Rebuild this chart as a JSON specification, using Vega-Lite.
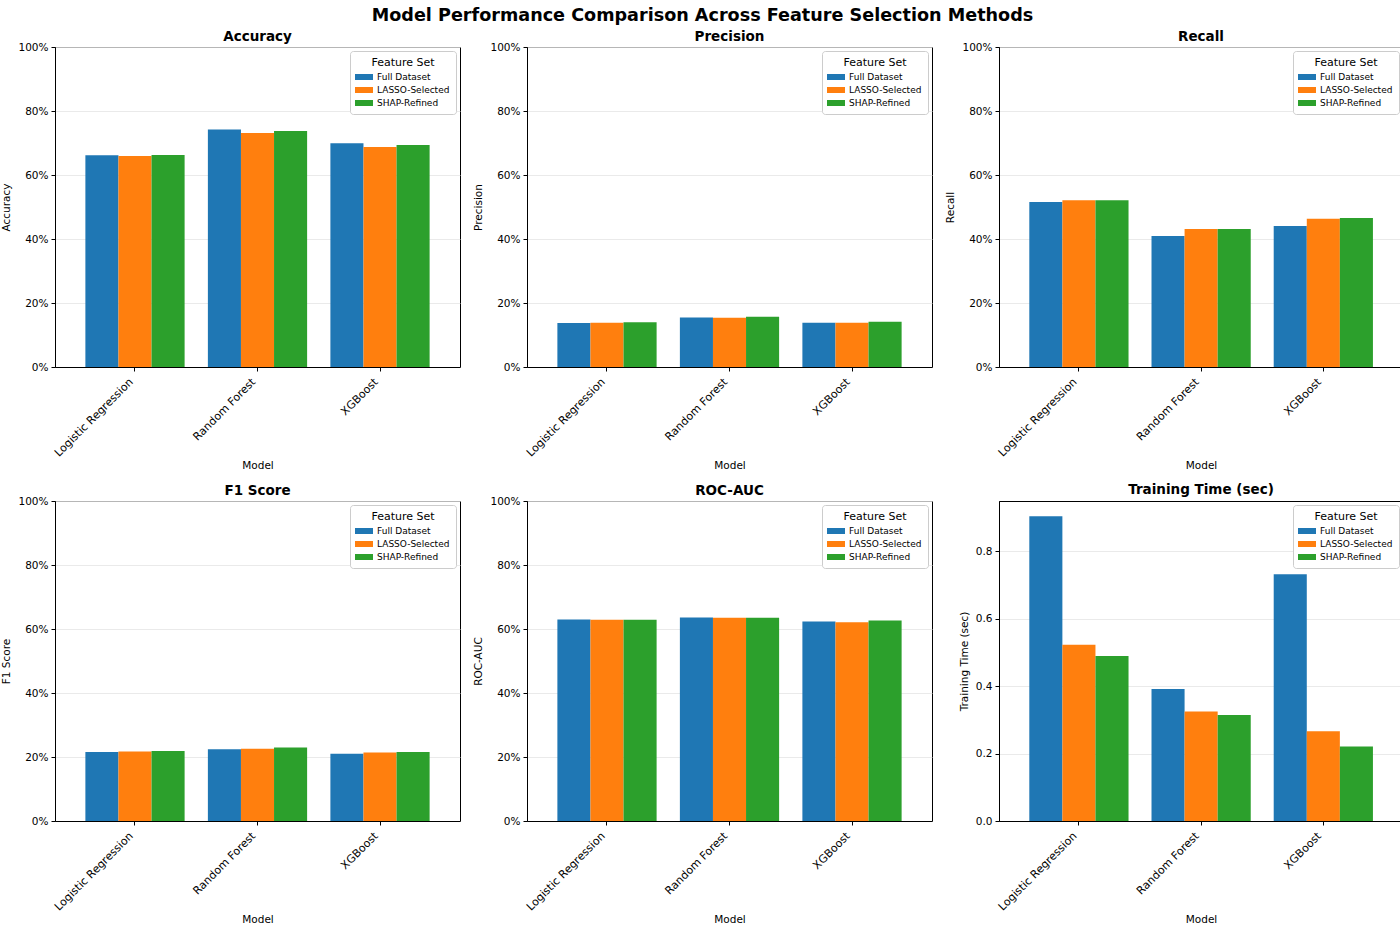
{
  "$schema": "https://vega.github.io/schema/vega-lite/v6.json",
  "padding": {"left": 1, "top": 7, "right": 0, "bottom": 0},
  "background": "white",
  "title": {"text": "Model Performance Comparison Across Feature Selection Methods", "fontSize": 17.6, "fontWeight": "bold", "anchor": "middle", "frame": "bounds", "offset": 4, "color": "black"},
  "config": {
    "font": "DejaVu Sans",
    "view": {"stroke": "black", "strokeWidth": 1},
    "title": {"fontSize": 13.5, "fontWeight": "bold", "offset": 5, "frame": "group", "color": "black"},
    "axis": {"labelFont": "DejaVu Sans", "labelFontSize": 10.5, "labelColor": "black", "titleFont": "DejaVu Sans", "titleFontSize": 10.5, "titleFontWeight": "normal", "titleColor": "black", "domainColor": "black", "tickColor": "black", "tickSize": 4, "labelPadding": 3, "gridColor": "#e4e4e4", "gridWidth": 0.8},
    "axisX": {"grid": false, "labelFontSize": 11, "labelAngle": -45, "labelAlign": "right", "labelBaseline": "middle", "labelOffset": -3.5, "labelPadding": 9, "titlePadding": 2},
    "axisY": {"titlePadding": 6},
    "legend": {"orient": "top-right", "offset": 4, "strokeColor": "#cccccc", "fillColor": "white", "padding": 6, "cornerRadius": 3, "titleFontSize": 11, "titleFontWeight": "normal", "titleColor": "black", "titleAnchor": "middle", "labelFontSize": 9, "labelColor": "black", "labelOffset": 7, "symbolOffset": 2, "symbolType": "M-1.5,-0.5H1.5V0.5H-1.5Z", "symbolSize": 144, "symbolStrokeWidth": 0, "symbolOpacity": 1, "rowPadding": 2, "titlePadding": 3}
  },
  "datasets": {
    "d": [
      {"metric": "Accuracy", "model": "Logistic Regression", "feature": "Full Dataset", "value": 0.6615},
      {"metric": "Accuracy", "model": "Logistic Regression", "feature": "LASSO-Selected", "value": 0.659},
      {"metric": "Accuracy", "model": "Logistic Regression", "feature": "SHAP-Refined", "value": 0.6625},
      {"metric": "Accuracy", "model": "Random Forest", "feature": "Full Dataset", "value": 0.742},
      {"metric": "Accuracy", "model": "Random Forest", "feature": "LASSO-Selected", "value": 0.731},
      {"metric": "Accuracy", "model": "Random Forest", "feature": "SHAP-Refined", "value": 0.7375},
      {"metric": "Accuracy", "model": "XGBoost", "feature": "Full Dataset", "value": 0.699},
      {"metric": "Accuracy", "model": "XGBoost", "feature": "LASSO-Selected", "value": 0.6875},
      {"metric": "Accuracy", "model": "XGBoost", "feature": "SHAP-Refined", "value": 0.694},
      {"metric": "Precision", "model": "Logistic Regression", "feature": "Full Dataset", "value": 0.1375},
      {"metric": "Precision", "model": "Logistic Regression", "feature": "LASSO-Selected", "value": 0.138},
      {"metric": "Precision", "model": "Logistic Regression", "feature": "SHAP-Refined", "value": 0.1395},
      {"metric": "Precision", "model": "Random Forest", "feature": "Full Dataset", "value": 0.155},
      {"metric": "Precision", "model": "Random Forest", "feature": "LASSO-Selected", "value": 0.154},
      {"metric": "Precision", "model": "Random Forest", "feature": "SHAP-Refined", "value": 0.157},
      {"metric": "Precision", "model": "XGBoost", "feature": "Full Dataset", "value": 0.138},
      {"metric": "Precision", "model": "XGBoost", "feature": "LASSO-Selected", "value": 0.138},
      {"metric": "Precision", "model": "XGBoost", "feature": "SHAP-Refined", "value": 0.1415},
      {"metric": "Recall", "model": "Logistic Regression", "feature": "Full Dataset", "value": 0.5156},
      {"metric": "Recall", "model": "Logistic Regression", "feature": "LASSO-Selected", "value": 0.521},
      {"metric": "Recall", "model": "Logistic Regression", "feature": "SHAP-Refined", "value": 0.521},
      {"metric": "Recall", "model": "Random Forest", "feature": "Full Dataset", "value": 0.409},
      {"metric": "Recall", "model": "Random Forest", "feature": "LASSO-Selected", "value": 0.431},
      {"metric": "Recall", "model": "Random Forest", "feature": "SHAP-Refined", "value": 0.431},
      {"metric": "Recall", "model": "XGBoost", "feature": "Full Dataset", "value": 0.4406},
      {"metric": "Recall", "model": "XGBoost", "feature": "LASSO-Selected", "value": 0.4635},
      {"metric": "Recall", "model": "XGBoost", "feature": "SHAP-Refined", "value": 0.4656},
      {"metric": "F1 Score", "model": "Logistic Regression", "feature": "Full Dataset", "value": 0.216},
      {"metric": "F1 Score", "model": "Logistic Regression", "feature": "LASSO-Selected", "value": 0.217},
      {"metric": "F1 Score", "model": "Logistic Regression", "feature": "SHAP-Refined", "value": 0.219},
      {"metric": "F1 Score", "model": "Random Forest", "feature": "Full Dataset", "value": 0.224},
      {"metric": "F1 Score", "model": "Random Forest", "feature": "LASSO-Selected", "value": 0.2255},
      {"metric": "F1 Score", "model": "Random Forest", "feature": "SHAP-Refined", "value": 0.2297},
      {"metric": "F1 Score", "model": "XGBoost", "feature": "Full Dataset", "value": 0.21},
      {"metric": "F1 Score", "model": "XGBoost", "feature": "LASSO-Selected", "value": 0.214},
      {"metric": "F1 Score", "model": "XGBoost", "feature": "SHAP-Refined", "value": 0.216},
      {"metric": "ROC-AUC", "model": "Logistic Regression", "feature": "Full Dataset", "value": 0.6297},
      {"metric": "ROC-AUC", "model": "Logistic Regression", "feature": "LASSO-Selected", "value": 0.6287},
      {"metric": "ROC-AUC", "model": "Logistic Regression", "feature": "SHAP-Refined", "value": 0.6287},
      {"metric": "ROC-AUC", "model": "Random Forest", "feature": "Full Dataset", "value": 0.636},
      {"metric": "ROC-AUC", "model": "Random Forest", "feature": "LASSO-Selected", "value": 0.635},
      {"metric": "ROC-AUC", "model": "Random Forest", "feature": "SHAP-Refined", "value": 0.635},
      {"metric": "ROC-AUC", "model": "XGBoost", "feature": "Full Dataset", "value": 0.6234},
      {"metric": "ROC-AUC", "model": "XGBoost", "feature": "LASSO-Selected", "value": 0.621},
      {"metric": "ROC-AUC", "model": "XGBoost", "feature": "SHAP-Refined", "value": 0.6266},
      {"metric": "Training Time (sec)", "model": "Logistic Regression", "feature": "Full Dataset", "value": 0.9036},
      {"metric": "Training Time (sec)", "model": "Logistic Regression", "feature": "LASSO-Selected", "value": 0.5228},
      {"metric": "Training Time (sec)", "model": "Logistic Regression", "feature": "SHAP-Refined", "value": 0.489},
      {"metric": "Training Time (sec)", "model": "Random Forest", "feature": "Full Dataset", "value": 0.3917},
      {"metric": "Training Time (sec)", "model": "Random Forest", "feature": "LASSO-Selected", "value": 0.3245},
      {"metric": "Training Time (sec)", "model": "Random Forest", "feature": "SHAP-Refined", "value": 0.3147},
      {"metric": "Training Time (sec)", "model": "XGBoost", "feature": "Full Dataset", "value": 0.732},
      {"metric": "Training Time (sec)", "model": "XGBoost", "feature": "LASSO-Selected", "value": 0.266},
      {"metric": "Training Time (sec)", "model": "XGBoost", "feature": "SHAP-Refined", "value": 0.221}
    ]
  },
  "columns": 3,
  "spacing": {"row": 10, "column": 12},
  "resolve": {"scale": {"color": "independent", "y": "independent"}, "legend": {"color": "independent"}},
  "concat": [
    {
      "width": 405, "height": 320, "title": {"text": "Accuracy", "offset": -1},
      "data": {"name": "d"},
      "transform": [{"filter": "datum.metric === 'Accuracy'"}],
      "mark": {"type": "bar"},
      "encoding": {
        "x": {"field": "model", "type": "nominal", "title": "Model", "scale": {"paddingInner": 0.19, "paddingOuter": 0.248}},
        "xOffset": {"field": "feature", "type": "nominal", "scale": {"paddingInner": 0, "paddingOuter": 0}},
        "y": {"field": "value", "type": "quantitative", "title": "Accuracy", "scale": {"domain": [0, 1]}, "axis": {"format": ".0%", "values": [0, 0.2, 0.4, 0.6, 0.8, 1]}},
        "color": {"field": "feature", "type": "nominal", "title": "Feature Set", "scale": {"domain": ["Full Dataset", "LASSO-Selected", "SHAP-Refined"], "range": ["#1f77b4", "#ff7f0e", "#2ca02c"]}}
      }
    },
    {
      "width": 405, "height": 320, "title": {"text": "Precision", "offset": -1},
      "data": {"name": "d"},
      "transform": [{"filter": "datum.metric === 'Precision'"}],
      "mark": {"type": "bar"},
      "encoding": {
        "x": {"field": "model", "type": "nominal", "title": "Model", "scale": {"paddingInner": 0.19, "paddingOuter": 0.248}},
        "xOffset": {"field": "feature", "type": "nominal", "scale": {"paddingInner": 0, "paddingOuter": 0}},
        "y": {"field": "value", "type": "quantitative", "title": "Precision", "scale": {"domain": [0, 1]}, "axis": {"format": ".0%", "values": [0, 0.2, 0.4, 0.6, 0.8, 1]}},
        "color": {"field": "feature", "type": "nominal", "title": "Feature Set", "scale": {"domain": ["Full Dataset", "LASSO-Selected", "SHAP-Refined"], "range": ["#1f77b4", "#ff7f0e", "#2ca02c"]}}
      }
    },
    {
      "width": 404, "height": 320, "title": {"text": "Recall", "offset": -1},
      "data": {"name": "d"},
      "transform": [{"filter": "datum.metric === 'Recall'"}],
      "mark": {"type": "bar"},
      "encoding": {
        "x": {"field": "model", "type": "nominal", "title": "Model", "scale": {"paddingInner": 0.19, "paddingOuter": 0.248}},
        "xOffset": {"field": "feature", "type": "nominal", "scale": {"paddingInner": 0, "paddingOuter": 0}},
        "y": {"field": "value", "type": "quantitative", "title": "Recall", "scale": {"domain": [0, 1]}, "axis": {"format": ".0%", "values": [0, 0.2, 0.4, 0.6, 0.8, 1]}},
        "color": {"field": "feature", "type": "nominal", "title": "Feature Set", "scale": {"domain": ["Full Dataset", "LASSO-Selected", "SHAP-Refined"], "range": ["#1f77b4", "#ff7f0e", "#2ca02c"]}}
      }
    },
    {
      "width": 405, "height": 320, "title": {"text": "F1 Score", "offset": -1},
      "data": {"name": "d"},
      "transform": [{"filter": "datum.metric === 'F1 Score'"}],
      "mark": {"type": "bar"},
      "encoding": {
        "x": {"field": "model", "type": "nominal", "title": "Model", "scale": {"paddingInner": 0.19, "paddingOuter": 0.248}},
        "xOffset": {"field": "feature", "type": "nominal", "scale": {"paddingInner": 0, "paddingOuter": 0}},
        "y": {"field": "value", "type": "quantitative", "title": "F1 Score", "scale": {"domain": [0, 1]}, "axis": {"format": ".0%", "values": [0, 0.2, 0.4, 0.6, 0.8, 1]}},
        "color": {"field": "feature", "type": "nominal", "title": "Feature Set", "scale": {"domain": ["Full Dataset", "LASSO-Selected", "SHAP-Refined"], "range": ["#1f77b4", "#ff7f0e", "#2ca02c"]}}
      }
    },
    {
      "width": 405, "height": 320, "title": {"text": "ROC-AUC", "offset": -1},
      "data": {"name": "d"},
      "transform": [{"filter": "datum.metric === 'ROC-AUC'"}],
      "mark": {"type": "bar"},
      "encoding": {
        "x": {"field": "model", "type": "nominal", "title": "Model", "scale": {"paddingInner": 0.19, "paddingOuter": 0.248}},
        "xOffset": {"field": "feature", "type": "nominal", "scale": {"paddingInner": 0, "paddingOuter": 0}},
        "y": {"field": "value", "type": "quantitative", "title": "ROC-AUC", "scale": {"domain": [0, 1]}, "axis": {"format": ".0%", "values": [0, 0.2, 0.4, 0.6, 0.8, 1]}},
        "color": {"field": "feature", "type": "nominal", "title": "Feature Set", "scale": {"domain": ["Full Dataset", "LASSO-Selected", "SHAP-Refined"], "range": ["#1f77b4", "#ff7f0e", "#2ca02c"]}}
      }
    },
    {
      "width": 404, "height": 320, "title": {"text": "Training Time (sec)", "offset": 5},
      "data": {"name": "d"},
      "transform": [{"filter": "datum.metric === 'Training Time (sec)'"}],
      "mark": {"type": "bar"},
      "encoding": {
        "x": {"field": "model", "type": "nominal", "title": "Model", "scale": {"paddingInner": 0.19, "paddingOuter": 0.248}},
        "xOffset": {"field": "feature", "type": "nominal", "scale": {"paddingInner": 0, "paddingOuter": 0}},
        "y": {"field": "value", "type": "quantitative", "title": "Training Time (sec)", "scale": {"domain": [0, 0.949]}, "axis": {"format": ".1f", "values": [0, 0.2, 0.4, 0.6, 0.8]}},
        "color": {"field": "feature", "type": "nominal", "title": "Feature Set", "scale": {"domain": ["Full Dataset", "LASSO-Selected", "SHAP-Refined"], "range": ["#1f77b4", "#ff7f0e", "#2ca02c"]}}
      }
    }
  ]
}
